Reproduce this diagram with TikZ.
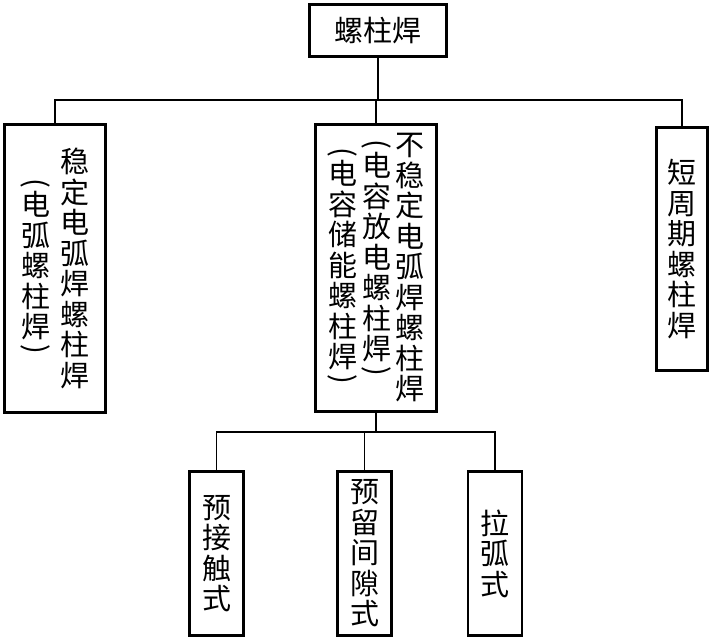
\documentclass[tikz,border=0pt]{standalone}
\usepackage{fontspec}
\setmainfont{Noto Sans CJK SC}
\usepackage{graphicx}
\usetikzlibrary{positioning}
% one column of upright characters
\newcommand{\vcol}[1]{\parbox[c]{29pt}{\centering #1}}
\newcommand{\lpar}{\rotatebox[origin=c]{-90}{(}\\[-7pt]}
\newcommand{\rpar}{\\[-10pt]\rotatebox[origin=c]{-90}{)}}

\begin{document}
\begin{tikzpicture}[x=1pt,y=-1pt,
  typebox/.style={draw,line width=2.8pt,inner sep=0pt,
                  font=\fontsize{29}{30.5}\selectfont},
  link/.style={line width=1.2pt}]
  \useasboundingbox (0,0) rectangle (715,639);

  % Top: stud welding
  \node[typebox,minimum width=137pt,minimum height=52pt] (stud) at (378,30.5) {螺柱焊};

  % Level 1: three kinds
  \node[typebox,minimum width=101pt,minimum height=288pt] (stable) at (55,268.5)
    {\vcol{\lpar 电\\弧\\螺\\柱\\焊\rpar}\hspace{10pt}\vcol{稳\\定\\电\\弧\\焊\\螺\\柱\\焊}};

  \node[typebox,minimum width=121pt,minimum height=287pt] (unstable) at (376,268)
    {\vcol{\lpar 电\\容\\储\\能\\螺\\柱\\焊\rpar}\hspace{5pt}%
     \raisebox{8pt}{\vcol{\lpar 电\\容\\放\\电\\螺\\柱\\焊\rpar}}\hspace{4pt}%
     \vcol{不\\稳\\定\\电\\弧\\焊\\螺\\柱\\焊}};

  \node[typebox,minimum width=51pt,minimum height=243pt] (short) at (682,249)
    {\vcol{短\\周\\期\\螺\\柱\\焊}};

  % Level 2: capacitor discharge modes
  \node[typebox,minimum width=54pt,minimum height=164pt] (contact) at (216.5,553.5)
    {\vcol{预\\接\\触\\式}};
  \node[typebox,minimum width=54pt,minimum height=164pt] (gap) at (364.5,553.5)
    {\vcol{预\\留\\间\\隙\\式}};
  \node[typebox,minimum width=54pt,minimum height=164pt] (drawn) at (495,553.5)
    {\vcol{拉\\弧\\式}};

  % Connectors
  \coordinate (bus) at (stud.south |- 0,100);
  \draw[link] (stud.south) -- (bus);
  \draw[link] (bus) -| (stable.north);
  \draw[link] (bus) -| (unstable.north);
  \draw[link] (bus) -| (short.north);

  \coordinate (lowbus) at (unstable.south |- 0,432);
  \draw[link] (unstable.south) -- (lowbus);
  \draw[link] (lowbus) -| (contact.north);
  \draw[link] (lowbus) -| (gap.north);
  \draw[link] (lowbus) -| (drawn.north);
\end{tikzpicture}
\end{document}
